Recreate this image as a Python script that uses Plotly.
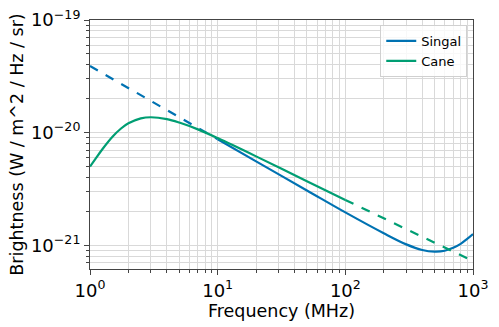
import plotly.graph_objects as go

# frequencies in MHz, brightness in W / m^2 / Hz / sr
singal_freq_dash = [1, 2, 3, 5, 10]
singal_dash = [3.9e-20, 2.48e-20, 1.91e-20, 1.37e-20, 8.75e-21]
singal_freq = [10, 20, 50, 100, 200, 300, 400, 500, 600, 700, 800, 900, 1000]
singal = [8.75e-21, 5.56e-21, 3.07e-21, 1.96e-21, 1.28e-21, 1.02e-21, 9.1e-22,
          8.8e-22, 8.95e-22, 9.5e-22, 1.03e-21, 1.14e-21, 1.26e-21]

cane_freq = [1, 1.1, 1.25, 1.5, 1.75, 2, 2.5, 3, 4, 5, 7, 10, 20, 50, 100]
cane = [5.0e-21, 5.83e-21, 7.13e-21, 9.2e-21, 1.089e-20, 1.21e-20, 1.338e-20, 1.37e-20,
        1.32e-20, 1.23e-20, 1.07e-20, 8.95e-21, 6.16e-21, 3.71e-21, 2.53e-21]
cane_freq_dash = [100, 200, 500, 1000]
cane_dash = [2.53e-21, 1.73e-21, 1.05e-21, 7.25e-22]

x_ticks = [1, 10, 100, 1000]
x_labels = ["10<sup>0</sup>", "10<sup>1</sup>", "10<sup>2</sup>", "10<sup>3</sup>"]
y_ticks = [1e-21, 1e-20, 1e-19]
y_labels = ["10<sup>\u221221</sup>", "10<sup>\u221220</sup>", "10<sup>\u221219</sup>"]

BLUE = "#0072B2"
GREEN = "#009E73"

fig = go.Figure()
fig.add_trace(go.Scatter(x=singal_freq_dash, y=singal_dash, mode="lines", showlegend=False,
                         line=dict(color=BLUE, width=2.2, dash="dash")))
fig.add_trace(go.Scatter(x=singal_freq, y=singal, mode="lines", name="Singal",
                         line=dict(color=BLUE, width=2.2, shape="spline")))
fig.add_trace(go.Scatter(x=cane_freq, y=cane, mode="lines", name="Cane",
                         line=dict(color=GREEN, width=2.2, shape="spline")))
fig.add_trace(go.Scatter(x=cane_freq_dash, y=cane_dash, mode="lines", showlegend=False,
                         line=dict(color=GREEN, width=2.2, dash="dash")))

axis_common = dict(
    type="log", automargin=False,
    showline=True, linecolor="#444", linewidth=1, mirror=True,
    ticks="outside", ticklen=5, tickcolor="#444",
    showgrid=True, gridcolor="#d9d9d9", gridwidth=1,
    minor=dict(dtick="D1", showgrid=True, gridcolor="#d9d9d9",
               ticks="outside", ticklen=3, tickcolor="#444"),
    tickfont=dict(size=18, color="black"),
    zeroline=False,
)

fig.update_xaxes(range=[0, 3], tickvals=x_ticks, ticktext=x_labels,
                 title=dict(text="Frequency (MHz)", font=dict(size=17.5, color="black"), standoff=2),
                 **axis_common)
fig.update_yaxes(range=[-21.21, -19], tickvals=y_ticks, ticktext=y_labels,
                 title=dict(text="Brightness (W / m^2 / Hz / sr)",
                            font=dict(size=17.5, color="black"), standoff=2),
                 **axis_common)

fig.update_layout(
    width=499, height=327,
    margin=dict(l=90, r=26, t=20, b=58),
    paper_bgcolor="white", plot_bgcolor="white",
    font=dict(family="DejaVu Sans", color="black"),
    legend=dict(x=0.985, y=0.98, xanchor="right", yanchor="top",
                bgcolor="rgba(255,255,255,0.8)", bordercolor="#d0d0d0", borderwidth=1,
                font=dict(size=13)),
)

fig.write_html("out.html", config={"displayModeBar": False},
               post_script="document.body.style.margin='0';")
